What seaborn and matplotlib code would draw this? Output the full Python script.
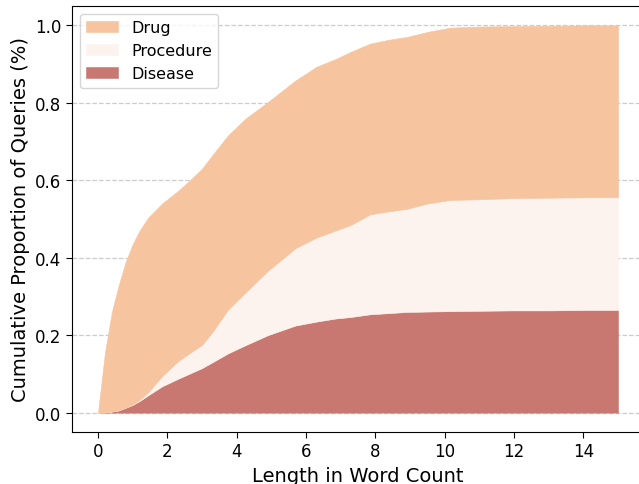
import matplotlib.pyplot as plt
import numpy as np
import seaborn as sns

# word-count grid and cumulative shares
LENGTH = [0, 0.2, 0.4, 0.6, 0.8, 1.0, 1.2, 1.45, 1.85, 2.3, 2.7, 3.0, 3.3, 3.75,
          4.25, 4.9, 5.7, 6.3, 6.85, 7.3, 7.85, 8.4, 8.9, 9.5, 10.15, 11, 12, 13,
          14, 15]
DISEASE = [0, 0.001, 0.003, 0.006, 0.013, 0.02, 0.03, 0.045, 0.068, 0.087, 0.103,
           0.115, 0.13, 0.153, 0.174, 0.2, 0.225, 0.235, 0.243, 0.247, 0.254,
           0.257, 0.26, 0.261, 0.262, 0.263, 0.264, 0.264, 0.265, 0.265]
PROC_TOP = [0, 0.001, 0.003, 0.006, 0.013, 0.021, 0.033, 0.053, 0.094, 0.132,
            0.157, 0.175, 0.208, 0.266, 0.31, 0.366, 0.425, 0.452, 0.47, 0.485,
            0.512, 0.52, 0.526, 0.54, 0.549, 0.551, 0.554, 0.555, 0.556, 0.556]
TOTAL = [0, 0.155, 0.26, 0.33, 0.39, 0.435, 0.47, 0.504, 0.54, 0.572, 0.604,
         0.63, 0.665, 0.716, 0.759, 0.802, 0.858, 0.893, 0.913, 0.932, 0.953,
         0.963, 0.97, 0.983, 0.994, 0.997, 0.998, 0.999, 1.0, 1.0]
CATEGORIES = ['Disease', 'Procedure', 'Drug']
COLORS = ['#C87870', '#FCF3EE', '#F6C49F']

sns.set_style("ticks", {"axes.edgecolor": "black", "xtick.color": "black",
                        "ytick.color": "black", "axes.labelcolor": "black",
                        "text.color": "black"})
plt.rcParams['font.family'] = ['DejaVu Sans']

x = np.array(LENGTH)
disease = np.array(DISEASE)
procedure = np.array(PROC_TOP) - disease
drug = np.array(TOTAL) - np.array(PROC_TOP)

fig = plt.figure(figsize=(6.39, 4.85), dpi=100)
ax = fig.add_axes([72 / 639, 52 / 485, 572 / 639, 426 / 485])

polys = ax.stackplot(x, disease, procedure, drug, colors=COLORS,
                     labels=CATEGORIES, linewidth=0.4)
for p, c in zip(polys, COLORS):
    p.set_edgecolor(c)

ax.set_xlim(-0.75, 15.75)
ax.set_ylim(-0.05, 1.05)
ax.set_xticks(range(0, 16, 2))
ax.yaxis.grid(True, linestyle='--', color='#cccccc', linewidth=0.9)
ax.set_axisbelow(True)
ax.tick_params(labelsize=12, length=4)
ax.set_xlabel('Length in Word Count', fontsize=14)
ax.set_ylabel('Cumulative Proportion of Queries (%)', fontsize=14)

handles, labels = ax.get_legend_handles_labels()
ax.legend(handles[::-1], labels[::-1], loc='upper left', fontsize=11.5,
          frameon=True)

plt.savefig('out.png', dpi=100)
